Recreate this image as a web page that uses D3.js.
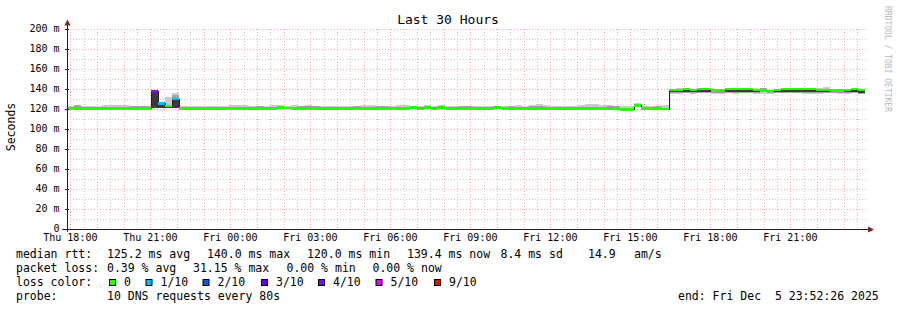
<!DOCTYPE html>
<html><head><meta charset="utf-8">
<script src="https://cdn.jsdelivr.net/npm/d3@7"></script>
<style>html,body{margin:0;padding:0;background:#fff}svg{display:block}</style>
</head><body>
<svg id="chart" width="897" height="310"></svg>
<script>
// ---------- data ----------
const titleText = "Last 30 Hours";
const startTime = new Date(2025, 11, 4, 17, 52, 26);
const endTime = new Date(2025, 11, 5, 23, 52, 26);
const binSeconds = 945;
const yTickValues = [0, 20, 40, 60, 80, 100, 120, 140, 160, 180, 200];
const yTickLabels = ["0", "20 m", "40 m", "60 m", "80 m", "100 m", "120 m", "140 m", "160 m", "180 m", "200 m"];

// median rtt per bin (ms)
const medianMs = [
 120.3,120.3,120.3,120.3,120.3,120.3,120.3,120.3,120.3,120.3,
 120.3,120.3,137.5,125.3,123.0,130.0,120.3,120.3,120.3,120.3,
 120.3,120.3,120.3,120.3,120.3,120.3,120.3,120.3,120.3,120.3,
 121.3,121.0,120.3,120.3,120.3,120.3,120.3,120.3,120.3,120.3,
 120.3,120.3,120.3,120.3,120.3,120.3,120.3,120.3,120.3,121.3,
 120.3,121.3,120.3,121.3,120.3,120.3,120.3,120.3,120.3,120.3,
 120.3,121.3,120.3,120.3,120.3,120.3,120.3,120.3,120.3,120.3,
 120.3,120.3,120.3,120.3,120.3,120.3,120.3,120.3,120.3,119.8,
 119.8,123.5,120.3,120.3,120.3,120.0,139.0,139.0,140.0,139.0,
 140.0,140.0,138.5,138.5,140.0,140.0,140.0,140.0,139.0,138.8,
 138.0,139.0,140.0,140.0,140.0,140.0,140.0,139.0,139.0,138.3,
 138.3,139.0,140.0,139.0
];
// lost pings (of 10) per bin
const lossCount = [
 0,0,0,0,0,0,0,0,0,0, 0,0,4,1,0,1,0,0,0,0,
 0,0,0,0,0,0,0,0,0,0, 0,0,0,0,0,0,0,0,0,0,
 0,0,0,0,0,0,0,0,0,0, 0,0,0,0,0,0,0,0,0,0,
 0,0,0,0,0,0,0,0,0,0, 0,0,0,0,0,0,0,0,0,0,
 0,0,0,0,0,0,0,0,0,0, 0,0,0,0,0,0,0,0,0,0,
 0,0,0,0,0,0,0,0,0,0, 0,0,0,0
];
// fastest ping per bin (ms)
const smokeLow = [
 120.0,120.0,120.0,120.0,120.0,120.0,120.0,120.0,120.0,120.0,
 120.0,120.0,120.7,121.0,121.3,120.7,120.0,120.0,120.0,120.0,
 120.0,120.0,120.0,120.0,120.0,120.0,120.0,120.0,120.0,120.0,
 120.0,120.0,120.0,120.0,120.0,120.0,120.0,120.0,120.0,120.0,
 120.0,120.0,120.0,120.0,120.0,120.0,120.0,120.0,120.0,120.0,
 120.0,120.0,120.0,120.0,120.0,120.0,120.0,120.0,120.0,120.0,
 120.0,121.2,120.0,120.0,120.0,120.0,120.0,120.0,120.0,120.0,
 120.0,120.0,120.0,120.0,120.0,120.0,120.0,120.0,120.0,119.6,
 119.6,123.3,120.0,120.0,120.0,119.8,135.0,135.0,136.5,135.0,
 136.5,136.5,135.0,135.0,136.5,135.0,136.5,136.5,135.0,135.5,
 135.5,136.5,136.5,136.5,136.5,135.0,135.0,135.0,136.5,136.5,
 135.0,135.5,136.5,135.0
];
// slowest ping per bin (ms)
const smokeHigh = [
 123.3,124.0,123.0,123.0,123.0,123.8,124.0,124.0,124.0,123.5,
 123.5,122.8,138.0,127.0,132.0,136.0,123.5,123.3,122.8,122.8,
 123.0,123.0,123.5,124.0,124.0,124.0,123.3,123.3,123.3,124.0,
 124.0,123.5,124.3,123.5,124.0,123.5,123.3,123.0,123.5,123.5,
 123.5,123.0,124.0,124.5,123.5,123.0,123.5,123.8,124.0,123.3,
 123.5,124.3,123.5,124.5,123.5,123.3,123.0,123.5,123.5,123.0,
 123.3,123.0,123.5,123.3,124.0,123.5,124.0,125.0,124.3,123.5,
 123.5,123.3,123.3,123.8,125.0,125.0,124.0,124.0,123.3,123.5,
 123.0,126.0,123.5,123.3,123.5,124.0,139.5,141.5,140.5,139.5,
 140.5,140.5,139.0,139.0,140.5,140.5,140.5,140.5,140.0,141.5,
 138.5,139.5,140.5,140.5,140.5,141.0,141.0,141.0,142.0,139.0,
 138.8,139.5,140.5,139.5
];
// inner smoke boundary (mid grey band from median to this value)
const smokeMid = [
 121.5,124.0,121.5,121.5,121.5,121.5,121.5,121.5,121.5,123.0,
 123.0,123.0,137.5,125.3,123.0,134.0,121.5,121.5,121.5,121.5,
 121.5,121.5,121.5,121.5,121.5,121.5,121.5,123.0,121.5,121.5,
 121.5,121.5,121.5,123.3,123.3,123.3,121.5,121.5,121.5,121.5,
 121.5,122.8,121.5,121.5,123.0,123.0,121.5,121.5,121.5,121.5,
 122.5,121.5,121.5,121.5,121.5,121.5,123.0,123.0,121.5,121.5,
 121.5,121.5,121.5,123.3,121.5,121.5,123.0,123.0,121.5,121.5,
 121.5,121.5,121.5,121.5,121.5,121.5,121.5,123.5,123.5,121.5,
 121.5,123.5,121.5,121.5,122.8,121.5,136.5,136.5,136.5,136.5,
 136.5,136.5,136.0,136.0,136.5,136.5,136.5,136.5,136.5,141.0,
 136.0,136.5,136.5,136.5,136.5,136.5,136.5,136.5,136.5,136.0,
 136.0,136.5,136.5,135.5
];
// core smoke boundary (dark band from median to this value), null = none
const smokeCore = [
 null,null,null,null,null,null,null,null,null,null,
 null,null,120.7,121.0,121.3,120.7,null,null,null,null,
 null,null,null,null,null,null,null,null,null,null,
 null,null,null,null,null,null,null,null,null,null,
 null,null,null,null,null,null,null,null,null,null,
 null,null,null,null,null,null,null,null,null,null,
 null,null,null,null,null,null,null,null,null,null,
 null,null,null,null,null,null,null,null,null,null,
 null,null,null,null,null,null,137.3,137.3,137.3,137.3,
 137.3,137.3,136.8,136.8,137.3,137.3,137.3,137.3,137.3,137.3,
 136.8,137.3,137.3,137.3,137.3,137.3,137.3,137.3,137.3,136.8,
 136.8,137.3,137.3,135.8
];

const lossLevels = [0, 1, 2, 3, 4, 5, 9];
const lossLabels = ["0", "1/10", "2/10", "3/10", "4/10", "5/10", "9/10"];
const lossColors = ["#26ff00", "#00b8ff", "#0059ff", "#5e00ff", "#7e00ff", "#dd00ff", "#ff0000"];

const rttStats = ["125.2 ms avg", "140.0 ms max", "120.0 ms min", "139.4 ms now", "8.4 ms sd", "14.9", "am/s"];
const lossStats = ["0.39 % avg", "31.15 % max", "0.00 % min", "0.00 % now"];
const probeText = "10 DNS requests every 80s";
const endText = "end: Fri Dec  5 23:52:26 2025";
const watermark = "RRDTOOL / TOBI OETIKER";

// ---------- drawing ----------
const svg = d3.select("#chart");
const FONT = "'DejaVu Sans Mono', monospace";
const plot = {left: 67, right: 867, top: 29, bottom: 229};

const x = d3.scaleTime().domain([startTime, endTime]).range([plot.left, plot.right]);
const y = d3.scaleLinear().domain([0, 200]).range([plot.bottom, plot.top]);

svg.append("rect").attr("width", 897).attr("height", 310).attr("fill", "#fff");

// grid
const grid = svg.append("g").attr("shape-rendering", "crispEdges");
const minorT = d3.timeMinute.every(30).range(startTime, endTime).filter(d => d.getMinutes() !== 0);
const majorT = d3.timeHour.range(startTime, endTime);
grid.selectAll(".vmin").data(minorT).join("line")
  .attr("x1", d => Math.round(x(d)) + 0.5).attr("x2", d => Math.round(x(d)) + 0.5)
  .attr("y1", plot.top).attr("y2", plot.bottom)
  .attr("stroke", "#c8c8c8").attr("stroke-dasharray", "1,2");
const yMinor = d3.range(10, 201, 20);
grid.selectAll(".hmin").data(yMinor).join("line")
  .attr("x1", plot.left).attr("x2", plot.right)
  .attr("y1", d => Math.round(y(d)) + 0.5).attr("y2", d => Math.round(y(d)) + 0.5)
  .attr("stroke", "#c8c8c8").attr("stroke-dasharray", "1,2");
grid.selectAll(".vmaj").data(majorT).join("line")
  .attr("x1", d => Math.round(x(d)) + 0.5).attr("x2", d => Math.round(x(d)) + 0.5)
  .attr("y1", plot.top).attr("y2", plot.bottom)
  .attr("stroke", "#f3a6a6").attr("stroke-dasharray", "1,2");
grid.selectAll(".hmaj").data(yTickValues.filter(v => v > 0)).join("line")
  .attr("x1", plot.left).attr("x2", plot.right)
  .attr("y1", d => Math.round(y(d)) + 0.5).attr("y2", d => Math.round(y(d)) + 0.5)
  .attr("stroke", "#f3a6a6").attr("stroke-dasharray", "1,2");

// bins
const bins = medianMs.map((m, i) => ({
  t0: new Date(startTime.getTime() + i * binSeconds * 1000),
  t1: new Date(startTime.getTime() + (i + 1) * binSeconds * 1000),
  med: m, loss: lossCount[i], lo: smokeLow[i], hi: smokeHigh[i],
  mid: smokeMid[i], core: smokeCore[i]
}));
const data = svg.append("g").attr("shape-rendering", "crispEdges");
function band(sel, cls, v0, v1, color) {
  sel.selectAll("." + cls).data(bins.filter(b => v0(b) != null && v1(b) != null)).join("rect")
    .attr("class", cls)
    .attr("x", b => x(b.t0)).attr("width", b => x(b.t1) - x(b.t0))
    .attr("y", b => y(Math.max(v0(b), v1(b))))
    .attr("height", b => Math.abs(y(v0(b)) - y(v1(b))))
    .attr("fill", color);
}
band(data, "s1", b => b.lo, b => b.hi, "#cacaca");
band(data, "s2", b => b.med, b => b.mid, "#a4a4a4");
band(data, "s3", b => b.med, b => b.core, "#3a3a3a");

// median step line
const pts = bins.map(b => [x(b.t0), y(b.med)]);
pts.push([x(bins[bins.length - 1].t1), y(bins[bins.length - 1].med)]);
data.append("path").attr("d", d3.line().curve(d3.curveStepAfter)(pts))
  .attr("fill", "none").attr("stroke", "#202020").attr("stroke-width", 1);

// loss coloured median band
function lossColor(n) {
  let idx = 0;
  lossLevels.forEach((l, k) => { if (n >= l) idx = k; });
  return lossColors[idx];
}
data.selectAll(".med").data(bins).join("rect")
  .attr("x", b => x(b.t0)).attr("width", b => x(b.t1) - x(b.t0))
  .attr("y", b => y(b.med) - 1.3).attr("height", 2.6)
  .attr("fill", b => lossColor(b.loss));

// axes
const ax = svg.append("g").attr("shape-rendering", "crispEdges");
ax.append("line").attr("x1", plot.left + 0.5).attr("x2", plot.left + 0.5)
  .attr("y1", plot.bottom + 3).attr("y2", 24).attr("stroke", "#202020");
ax.append("line").attr("x1", plot.left - 5).attr("x2", 869)
  .attr("y1", plot.bottom + 0.5).attr("y2", plot.bottom + 0.5).attr("stroke", "#202020");
ax.selectAll(".yt").data(yTickValues.filter(v => v > 0)).join("line")
  .attr("x1", plot.left - 2).attr("x2", plot.left + 2)
  .attr("y1", d => Math.round(y(d)) + 0.5).attr("y2", d => Math.round(y(d)) + 0.5)
  .attr("stroke", "#202020");
svg.append("path").attr("d", `M${plot.left + 0.5},19.5 L${plot.left - 2.5},25.5 L${plot.left + 3.5},25.5 Z`).attr("fill", "#7f1f1f");
svg.append("path").attr("d", `M874,${plot.bottom + 0.5} L868,${plot.bottom - 2.5} L868,${plot.bottom + 3.5} Z`).attr("fill", "#7f1f1f");

// tick labels
const nb = s => s.replace(/ /g, "\u00a0");
svg.selectAll(".yl").data(yTickValues).join("text")
  .attr("x", 59.5).attr("y", d => y(d) + 3.4)
  .attr("text-anchor", "end").attr("font-family", FONT).attr("font-size", "10px").attr("fill", "#000")
  .text((d, i) => nb(yTickLabels[i]));
const labelT = d3.timeHour.every(3).range(startTime, endTime);
const fmt = d3.timeFormat("%a %H:%M");
svg.selectAll(".xl").data(labelT).join("text")
  .attr("x", d => x(d)).attr("y", 241)
  .attr("text-anchor", "middle").attr("font-family", FONT).attr("font-size", "10px").attr("fill", "#000")
  .text(d => nb(fmt(d)));

// title, unit, watermark
svg.append("text").attr("x", 448).attr("y", 24).attr("text-anchor", "middle")
  .attr("font-family", FONT).attr("font-size", "13px").attr("fill", "#000").text(nb(titleText));
svg.append("text").attr("transform", "translate(15,127) rotate(-90)").attr("text-anchor", "middle")
  .attr("font-family", FONT).attr("font-size", "11.5px").attr("fill", "#000").text("Seconds");
svg.append("text").attr("transform", "translate(885,59) rotate(90)").attr("text-anchor", "middle")
  .attr("font-family", FONT).attr("font-size", "8px").attr("fill", "#b8b8b8").text(nb(watermark));

// legend
const lg = svg.append("g").attr("font-family", FONT).attr("font-size", "11.5px").attr("fill", "#000");
function put(txt, px, py) { lg.append("text").attr("x", px).attr("y", py).text(nb(txt)); }
const rows = [258, 272, 286, 300];
put("median rtt:", 16, rows[0]);
[107, 207, 307, 407, 500.5, 588, 634].forEach((px, i) => put(rttStats[i], px, rows[0]));
put("packet loss:", 16, rows[1]);
[107, 193, 286.5, 372.5].forEach((px, i) => put(lossStats[i], px, rows[1]));
put("loss color:", 16, rows[2]);
const swX = [109, 145.5, 202.5, 261, 318, 375.5, 434];
lossLabels.forEach((l, i) => {
  lg.append("rect").attr("x", swX[i] + 0.5).attr("y", 279.5).attr("width", 6).attr("height", 6)
    .attr("fill", lossColors[i]).attr("stroke", "#000").attr("stroke-width", 1);
  put(l, swX[i] + 15, rows[2]);
});
put("probe:", 16, rows[3]);
put(probeText, 107, rows[3]);
put(endText, 678, rows[3]);
</script>
</body></html>
